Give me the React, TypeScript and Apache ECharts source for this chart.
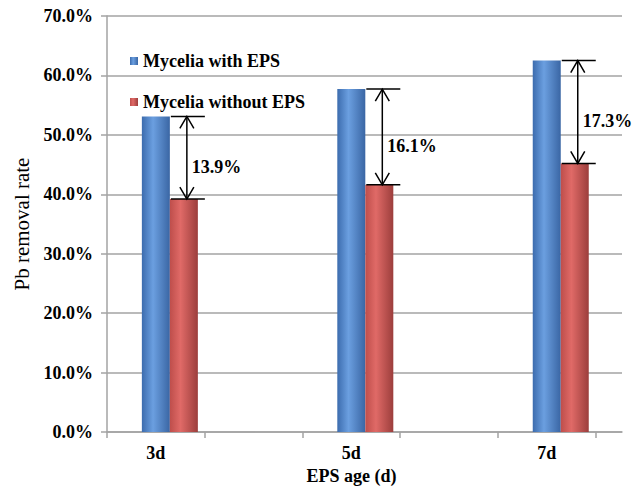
import React, { useEffect, useRef } from "react";
import * as echarts from "echarts";

// EPS age groups and Pb removal rates (%)
const categories = ["3d", "5d", "7d"];
const withEPS = [53.1, 57.7, 62.5];
const withoutEPS = [39.2, 41.6, 45.2];
const yTicks = [0, 10, 20, 30, 40, 50, 60, 70];

const SERIF = '"Liberation Serif", "Times New Roman", serif';
const GRID_GREY = "#a3a3a3";

// each age group sits in the middle of every other slot on the base axis
const slotOf = (i: number) => i * 2 + 0.5;

const blueFill = new echarts.graphic.LinearGradient(0, 0, 1, 0, [
  { offset: 0, color: "#3c6cae" },
  { offset: 0.4, color: "#6b9fe0" },
  { offset: 1, color: "#3a66a4" },
]);
const redFill = new echarts.graphic.LinearGradient(0, 0, 1, 0, [
  { offset: 0, color: "#be4e4b" },
  { offset: 0.38, color: "#e06a67" },
  { offset: 1, color: "#9c3e3c" },
]);

export default function App() {
  const ref = useRef<HTMLDivElement>(null);

  useEffect(() => {
    if (!ref.current) return;
    const chart = echarts.init(ref.current, undefined, { renderer: "svg" });

    const barW = 28;

    const option: echarts.EChartsOption = {
      animation: false,
      backgroundColor: "#ffffff",
      grid: { left: 107, right: 22, top: 16, bottom: 54 },
      legend: {
        data: ["Mycelia with EPS", "Mycelia without EPS"],
        orient: "vertical",
        left: 125,
        top: 47,
        itemGap: 23,
        itemWidth: 8,
        itemHeight: 8,
        icon: "rect",
        textStyle: {
          fontFamily: SERIF,
          fontWeight: "bold",
          fontSize: 18,
          color: "#000",
        },
      },
      xAxis: {
        type: "value",
        min: 0,
        max: 5.27,
        name: "EPS age (d)",
        nameLocation: "middle",
        nameGap: 24,
        nameTextStyle: {
          fontFamily: SERIF,
          fontWeight: "bold",
          fontSize: 18,
          color: "#000",
          padding: [0, 26, 0, 0],
        },
        axisLine: { show: true, lineStyle: { color: GRID_GREY, width: 1.5 } },
        axisTick: {
          show: true,
          length: 6,
          customValues: [0, 1, 2, 3, 4, 5],
          lineStyle: { color: GRID_GREY, width: 1.5 },
        },
        axisLabel: {
          customValues: categories.map((_, i) => slotOf(i)),
          formatter: (v: number) => categories[Math.round((v - 0.5) / 2)] ?? "",
          margin: 12,
          fontFamily: SERIF,
          fontWeight: "bold",
          fontSize: 18,
          color: "#000",
        },
        splitLine: { show: false },
      },
      yAxis: {
        type: "value",
        min: yTicks[0],
        max: yTicks[yTicks.length - 1],
        interval: 10,
        name: "Pb removal rate",
        nameLocation: "middle",
        nameGap: 74,
        nameTextStyle: {
          fontFamily: SERIF,
          fontSize: 21,
          color: "#000",
        },
        axisLine: { show: true, lineStyle: { color: GRID_GREY, width: 1.5 } },
        axisTick: { show: true, length: 6, lineStyle: { color: GRID_GREY, width: 1.5 } },
        axisLabel: {
          formatter: (v: number) => v.toFixed(1) + "%",
          margin: 14,
          fontFamily: SERIF,
          fontWeight: "bold",
          fontSize: 18,
          color: "#000",
        },
        splitLine: { show: true, lineStyle: { color: GRID_GREY, width: 1.5 } },
      },
      series: [
        {
          // empty leading slot in each group
          name: "spacer",
          type: "bar",
          barWidth: barW,
          barGap: "0%",
          data: [],
        },
        {
          name: "Mycelia with EPS",
          type: "bar",
          barWidth: barW,
          barGap: "0%",
          itemStyle: { color: blueFill },
          data: categories.map((_, i) => [slotOf(i), withEPS[i]]),
        },
        {
          name: "Mycelia without EPS",
          type: "bar",
          barWidth: barW,
          barGap: "0%",
          itemStyle: { color: redFill },
          data: categories.map((_, i) => [slotOf(i), withoutEPS[i]]),
        },
        {
          // double-headed arrows marking the gap between the two bars
          name: "difference",
          type: "custom",
          z: 5,
          silent: true,
          encode: { x: 0, y: [1, 2] },
          data: categories.map((_, i) => [slotOf(i), withEPS[i], withoutEPS[i]]),
          renderItem: (params: any, api: any) => {
            const x = api.value(0);
            const hi = api.value(1);
            const lo = api.value(2);
            const top = api.coord([x, hi]);
            const bot = api.coord([x, lo]);
            const boundary = top[0] + barW / 2;
            const capL = boundary + 1;
            const capR = boundary + 35;
            const ax = boundary + 17;
            const yT = top[1];
            const yB = bot[1];
            const stroke = { stroke: "#000", lineWidth: 1.5, fill: "none" };
            const head = 12;
            const half = 7;
            return {
              type: "group",
              children: [
                { type: "line", shape: { x1: capL, y1: yT, x2: capR, y2: yT }, style: stroke },
                { type: "line", shape: { x1: capL, y1: yB, x2: capR, y2: yB }, style: stroke },
                { type: "line", shape: { x1: ax, y1: yT, x2: ax, y2: yB }, style: stroke },
                {
                  type: "polyline",
                  shape: { points: [[ax - half, yT + head], [ax, yT], [ax + half, yT + head]] },
                  style: stroke,
                },
                {
                  type: "polyline",
                  shape: { points: [[ax - half, yB - head], [ax, yB], [ax + half, yB - head]] },
                  style: stroke,
                },
                {
                  type: "text",
                  x: ax + 5,
                  y: (yT + yB) / 2 + 9,
                  style: {
                    text: (hi - lo).toFixed(1) + "%",
                    fontFamily: SERIF,
                    fontWeight: "bold",
                    fontSize: 18,
                    fill: "#000",
                    align: "left",
                    verticalAlign: "middle",
                  },
                },
              ],
            };
          },
        },
      ],
    };

    chart.setOption(option);
    return () => chart.dispose();
  }, []);

  return (
    <div
      ref={ref}
      style={{ position: "fixed", left: 0, top: 0, width: 644, height: 490, background: "#fff" }}
    />
  );
}
